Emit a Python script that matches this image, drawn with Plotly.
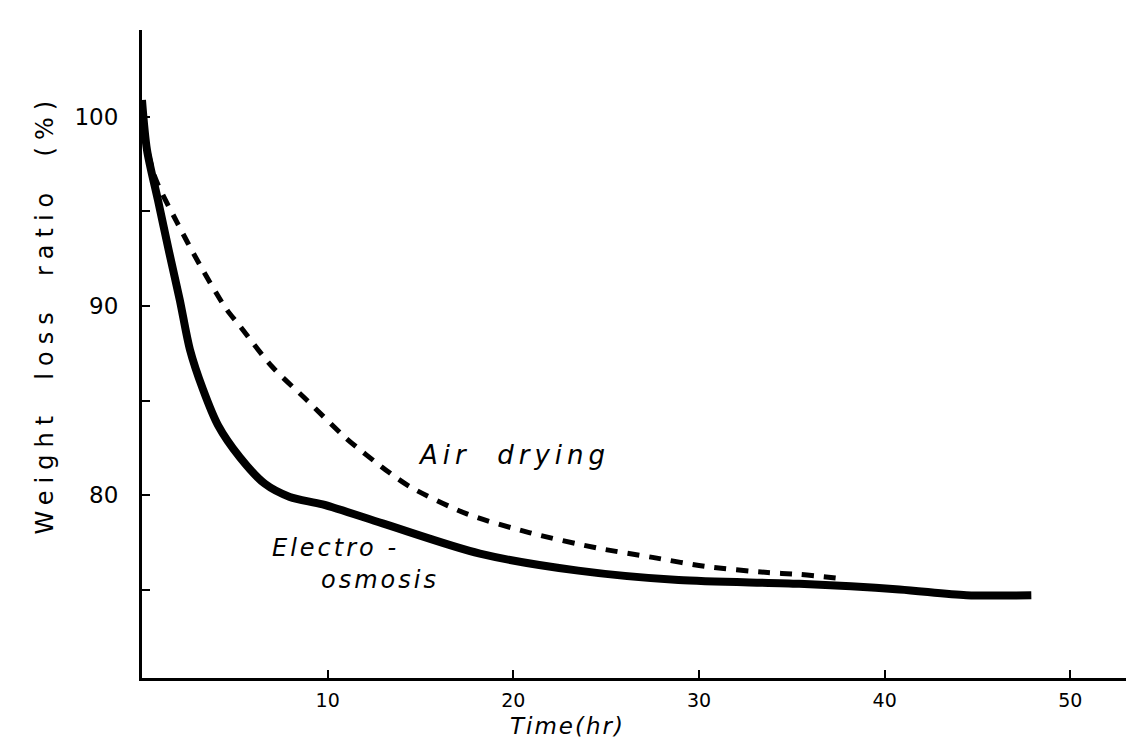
import plotly.graph_objects as go

# Electro-osmosis (solid)
t_eo = [0.0, 0.27, 0.86, 1.45, 2.04, 2.58, 3.28, 4.09, 5.27, 6.61, 7.96, 9.73, 12.96, 18.2, 23.5, 28.9, 35.4, 40.8, 44.4, 47.9]
w_eo = [100.9, 98.25, 95.6, 92.9, 90.3, 87.7, 85.6, 83.7, 82.0, 80.6, 79.9, 79.5, 78.5, 76.9, 76.0, 75.5, 75.3, 75.0, 74.7, 74.7]

# Air drying (dashed)
t_ad = [0.1, 0.7, 1.9, 3.1, 4.5, 5.3, 7.0, 8.9, 11.0, 13.3, 14.5, 17.5, 20.9, 24.5, 27.5, 30.5, 33.7, 35.4, 37.5]
w_ad = [99.2, 96.8, 94.4, 92.2, 89.9, 88.9, 86.8, 85.0, 83.0, 81.2, 80.4, 79.0, 78.0, 77.2, 76.7, 76.2, 75.9, 75.8, 75.6]

x_ticks = [10, 20, 30, 40, 50]
x_ticklabels = ["10", "20", "30", "40", "50"]
y_ticks = [75, 80, 85, 90, 95, 100]
y_ticklabels = ["", "80", "", "90", "", "100"]

fig = go.Figure()
fig.add_trace(go.Scatter(x=t_ad, y=w_ad, mode="lines",
                         line=dict(color="black", width=5, dash="12px,10px", shape="spline", smoothing=0.8),
                         name="Air drying", showlegend=False))
fig.add_trace(go.Scatter(x=t_eo, y=w_eo, mode="lines",
                         line=dict(color="black", width=8, shape="spline", smoothing=0.8),
                         name="Electro-osmosis", showlegend=False))

fig.update_layout(
    width=1126, height=745,
    margin=dict(l=142, r=0, t=30, b=67),
    paper_bgcolor="white", plot_bgcolor="white",
    font=dict(family="DejaVu Sans", color="black"),
    xaxis=dict(range=[0, 53], showgrid=False, zeroline=False,
               showline=True, linecolor="black", linewidth=3,
               tickvals=x_ticks, ticktext=x_ticklabels,
               ticks="inside", ticklen=8, tickwidth=2, tickcolor="black",
               tickfont=dict(size=19, family="DejaVu Sans", color="black"),
               ticklabelstandoff=3),
    yaxis=dict(range=[70.32, 104.6], showgrid=False, zeroline=False,
               showline=True, linecolor="black", linewidth=3,
               tickvals=y_ticks, ticktext=y_ticklabels,
               ticks="inside", ticklen=8, tickwidth=2, tickcolor="black",
               tickfont=dict(size=23, family="DejaVu Sans", color="black"),
               ticklabelstandoff=16),
)

fig.add_annotation(x=-0.0986, xref="paper", y=89.6, yref="y",
                   xanchor="center", yanchor="middle",
                   text='<span style="letter-spacing:7px">Weight  loss  ratio  (%)</span>',
                   textangle=-90, showarrow=False,
                   font=dict(size=24, family="DejaVu Sans", color="black"))
fig.add_annotation(x=22.9, xref="x", y=-0.074, yref="paper",
                   xanchor="center", yanchor="middle",
                   text='<i><span style="letter-spacing:2px">Time(hr)</span></i>', showarrow=False,
                   font=dict(size=23, family="DejaVu Sans", color="black"))
fig.add_annotation(x=20.05, xref="x", y=82.1, yref="y",
                   xanchor="center", yanchor="middle",
                   text='<i><span style="letter-spacing:5px">Air  drying</span></i>', showarrow=False,
                   font=dict(size=26, family="DejaVu Sans", color="black"))
fig.add_annotation(x=10.43, xref="x", y=77.2, yref="y",
                   xanchor="center", yanchor="middle",
                   text='<i><span style="letter-spacing:3px">Electro -</span></i>', showarrow=False,
                   font=dict(size=24, family="DejaVu Sans", color="black"))
fig.add_annotation(x=12.8, xref="x", y=75.5, yref="y",
                   xanchor="center", yanchor="middle",
                   text='<i><span style="letter-spacing:3px">osmosis</span></i>', showarrow=False,
                   font=dict(size=24, family="DejaVu Sans", color="black"))

fig.write_html("out.html")
